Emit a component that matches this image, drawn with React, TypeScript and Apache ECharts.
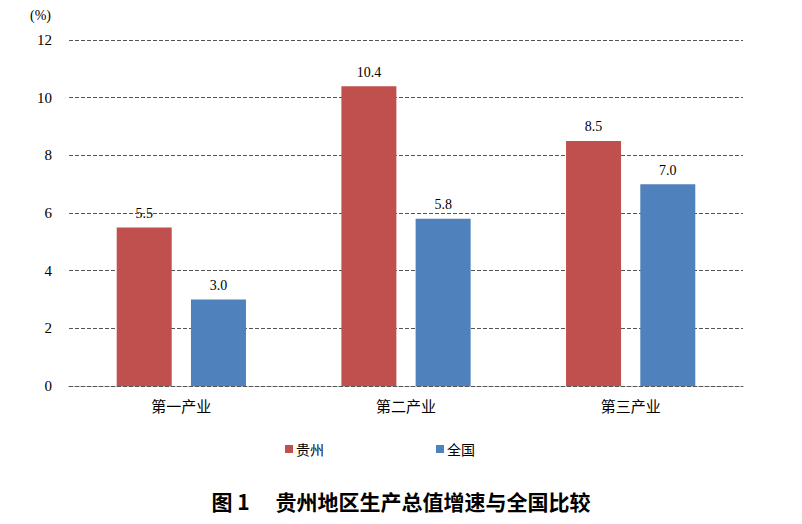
import React, { useEffect, useRef } from "react";
import * as echarts from "echarts";

const categories = ["第一产业", "第二产业", "第三产业"];
const guizhou = [5.5, 10.4, 8.5];
const national = [3.0, 5.8, 7.0];
const seriesNames = ["贵州", "全国"];

export default function App() {
  const ref = useRef<HTMLDivElement>(null);
  useEffect(() => {
    const chart = echarts.init(ref.current!, null, { renderer: "svg" });
    const numFont = "Liberation Serif";
    const cjkFont = "Noto Sans CJK SC";
    const labelCfg = {
      show: true,
      position: "top",
      distance: 7,
      formatter: (p: any) => p.value.toFixed(1),
      fontFamily: numFont,
      fontSize: 14,
      color: "#000",
    };
    chart.setOption({
      animation: false,
      backgroundColor: "#ffffff",
      title: {
        text: "图 1　 贵州地区生产总值增速与全国比较",
        left: "center",
        top: 477,
        textStyle: { fontFamily: cjkFont, fontSize: 21, fontWeight: "bold", color: "#000" },
      },
      legend: {
        data: seriesNames,
        top: 429,
        left: 272,
        itemGap: 112,
        itemWidth: 8,
        itemHeight: 8,
        icon: "rect",
        textStyle: { fontFamily: cjkFont, fontSize: 14, color: "#000", padding: [0, 0, 0, -2] },
      },
      grid: { left: 61, right: 51, top: 32, bottom: 130, containLabel: false },
      xAxis: {
        type: "category",
        data: categories,
        axisLine: { show: true, lineStyle: { color: "#555", type: "dashed" } },
        axisTick: { show: false },
        axisLabel: { fontFamily: cjkFont, fontSize: 15, color: "#000", margin: 12 },
      },
      yAxis: {
        type: "value",
        min: 0,
        max: 12,
        interval: 2,
        name: "(%)",
        nameLocation: "end",
        nameGap: 18,
        nameTextStyle: { fontFamily: numFont, fontSize: 14, color: "#000", align: "right", padding: [0, 18, 0, 0] },
        axisLine: { show: false },
        axisTick: { show: false },
        axisLabel: { fontFamily: numFont, fontSize: 15, color: "#000", margin: 17 },
        splitLine: { show: true, lineStyle: { color: "#555", type: "dashed", width: 1 } },
      },
      series: [
        {
          name: seriesNames[0],
          type: "bar",
          data: guizhou,
          barWidth: 55,
          barGap: "35%",
          itemStyle: { color: "#C0504D" },
          label: labelCfg,
        },
        {
          name: seriesNames[1],
          type: "bar",
          data: national,
          barWidth: 55,
          barGap: "35%",
          itemStyle: { color: "#4F81BD" },
          label: labelCfg,
        },
      ],
    });
    return () => chart.dispose();
  }, []);
  return <div ref={ref} style={{ width: 786, height: 508 }} />;
}
